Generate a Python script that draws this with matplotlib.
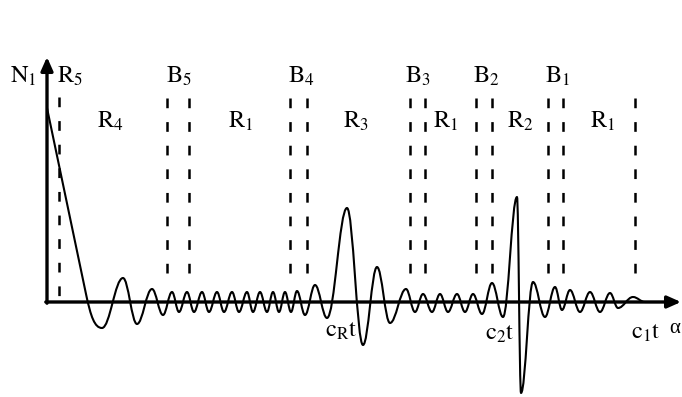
import matplotlib
matplotlib.use("Agg")
import matplotlib.pyplot as plt
from matplotlib.path import Path
from matplotlib.patches import PathPatch

plt.rcParams['mathtext.fontset'] = 'stix'
plt.rcParams['font.family'] = ['Liberation Serif', 'DejaVu Serif']
plt.rcParams['lines.scale_dashes'] = False

# ---------------- data (x position along the axis, amplitude above baseline) -------------
wave_start = (47, 194)          # top of the initial straight decay
line_end = (86, 8)              # end of the straight part
wave_x = [102, 123, 137, 152, 163, 172, 179, 187, 194, 202, 209, 217, 224, 232, 239,
          247, 253, 260, 267, 273, 279, 285, 291, 297, 305, 315, 327, 347, 363, 377,
          390, 406, 415, 423, 432, 440, 448, 457, 465, 473, 482, 492, 503, 517, 521,
          533, 545, 555, 562, 570, 580, 590, 600, 610, 618, 633, 645]
wave_y = [-26, 24, -22, 13, -13, 10, -10, 10, -10, 10, -10, 10, -10, 10, -10,
          10, -10, 10, -10, 10, -10, 10, -10, 11, -13, 17, -16, 94, -43, 35,
          -21, 13, -10, 8, -10, 8, -10, 8, -10, 8, -12, 19, -15, 105, -91,
          20, -15, 15, -8, 12, -10, 10, -10, 9, -6, 5, 0]
tail_end = 660

boundary_x = [167, 189, 290, 307, 410, 425, 476, 492, 548, 563, 635]
r5_x = 59

top_labels = [r'$\mathrm{N}_1$', r'$\mathrm{R}_5$', r'$\mathrm{B}_5$', r'$\mathrm{B}_4$',
              r'$\mathrm{B}_3$', r'$\mathrm{B}_2$', r'$\mathrm{B}_1$']
top_label_x = [10, 57, 166, 288, 405, 473, 545]
region_labels = [r'$\mathrm{R}_4$', r'$\mathrm{R}_1$', r'$\mathrm{R}_3$', r'$\mathrm{R}_1$',
                 r'$\mathrm{R}_2$', r'$\mathrm{R}_1$']
region_label_x = [97, 228, 343, 433, 507, 590]
bottom_labels = [r'$\mathrm{c}_{\mathrm{R}}\mathrm{t}$', r'$\mathrm{c}_2\mathrm{t}$',
                 r'$\mathrm{c}_1\mathrm{t}$']
bottom_label_x = [325, 485, 631]
bottom_label_y = [-35, -38, -37]
axis_label = 'α'

# ---------------- figure ----------------
fig = plt.figure(figsize=(6.82, 3.97), dpi=100)
ax = fig.add_axes([0, 0, 1, 1])
ax.set_xlim(0, 682)
ax.set_ylim(-95, 302)
ax.axis('off')

# wave path (Bezier segments with horizontal tangents at extrema)
k = 0.38
verts = [wave_start, line_end]
codes = [Path.MOVETO, Path.LINETO]
slope = (line_end[1] - wave_start[1]) / (line_end[0] - wave_start[0])
x0, y0 = line_end
x1, y1 = wave_x[0], wave_y[0]
dx = x1 - x0
verts += [(x0 + 0.3 * dx, y0 + slope * 0.3 * dx), (x1 - 0.45 * dx, y1), (x1, y1)]
codes += [Path.CURVE4] * 3
for i in range(len(wave_x) - 1):
    x0, y0 = wave_x[i], wave_y[i]
    x1, y1 = wave_x[i + 1], wave_y[i + 1]
    dx = x1 - x0
    verts += [(x0 + k * dx, y0), (x1 - k * dx, y1), (x1, y1)]
    codes += [Path.CURVE4] * 3
verts.append((tail_end, 0))
codes.append(Path.LINETO)
ax.add_patch(PathPatch(Path(verts, codes), facecolor='none', edgecolor='black',
                       lw=1.5, capstyle='round', joinstyle='round'))

# dashed boundaries
for bx in boundary_x:
    ax.plot([bx, bx], [204, 18], color='black', lw=1.8,
            linestyle=(0, (7, 10)), solid_capstyle='butt')
ax.plot([r5_x, r5_x], [205, 1], color='black', lw=1.8,
        linestyle=(0, (7, 10)), solid_capstyle='butt')

# axes with arrows
arrow = dict(arrowstyle='-|>,head_length=0.45,head_width=0.2', lw=2.4, color='black',
             shrinkA=0, shrinkB=0, mutation_scale=18)
ax.annotate('', xy=(681, 0), xytext=(45.8, 0), arrowprops=arrow)
ax.annotate('', xy=(47, 245), xytext=(47, -1.2), arrowprops=arrow)

# labels
fs = 17.5
for t, x in zip(top_labels, top_label_x):
    ax.text(x, 302 - 83, t, fontsize=fs, ha='left', va='baseline')
for t, x in zip(region_labels, region_label_x):
    ax.text(x, 302 - 128, t, fontsize=fs, ha='left', va='baseline')
for t, x, y in zip(bottom_labels, bottom_label_x, bottom_label_y):
    ax.text(x, y, t, fontsize=fs, ha='left', va='baseline')
ax.text(680, -31, axis_label, fontsize=15, ha='right', va='baseline')

fig.savefig('out.png', dpi=100)
